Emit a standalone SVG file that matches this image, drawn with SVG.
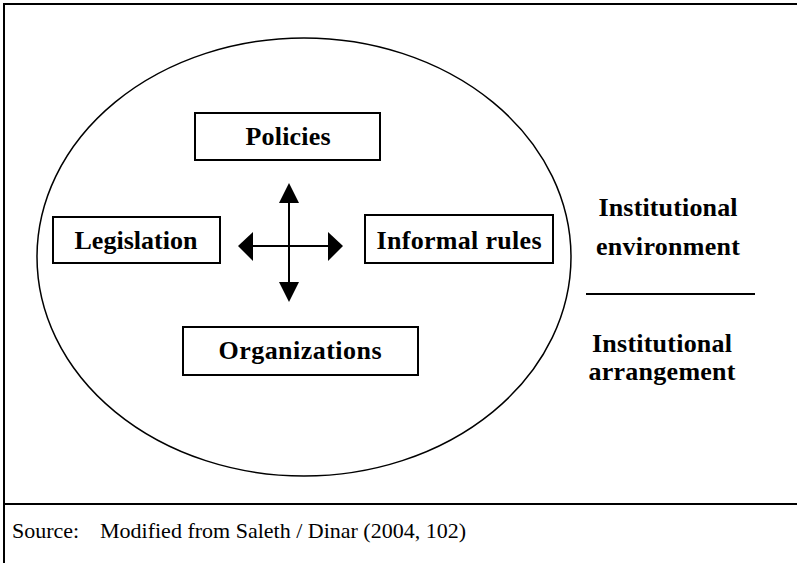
<svg xmlns="http://www.w3.org/2000/svg" width="797" height="563" viewBox="0 0 797 563">
<style>
.frame{stroke:#000;stroke-width:2;fill:none}
.box{fill:#fff;stroke:#000;stroke-width:2}
.lbl{font-family:"Liberation Serif";font-weight:700;font-size:26px;fill:#000;text-anchor:middle}
.src{font-family:"Liberation Serif","Times New Roman",serif;font-size:22px;fill:#000}
.arr{fill:#000}
</style>
<rect width="797" height="563" fill="#fff"/>
<g id="frame">
<line class="frame" x1="4" y1="4" x2="797" y2="4"/>
<line class="frame" x1="4" y1="3" x2="4" y2="563"/>
<line class="frame" x1="4" y1="504" x2="797" y2="504"/>
</g>
<g id="environment">
<ellipse cx="304" cy="257" rx="267" ry="219" fill="none" stroke="#000" stroke-width="1.5"/>
</g>
<g id="policies">
<rect class="box" x="195" y="113" width="185" height="47"/>
<text class="lbl" x="288" y="145" textLength="85" lengthAdjust="spacing">Policies</text>
</g>
<g id="legislation">
<rect class="box" x="53" y="217" width="167" height="46"/>
<text class="lbl" x="136" y="249" textLength="123" lengthAdjust="spacing">Legislation</text>
</g>
<g id="informal-rules">
<rect class="box" x="365" y="215" width="188" height="48"/>
<text class="lbl" x="459" y="249" textLength="165" lengthAdjust="spacing">Informal rules</text>
</g>
<g id="organizations">
<rect class="box" x="183" y="327" width="235" height="48"/>
<text class="lbl" x="300" y="359" textLength="163" lengthAdjust="spacing">Organizations</text>
</g>
<g id="connectors">
<line x1="289" y1="200" x2="289" y2="285" stroke="#000" stroke-width="2"/>
<line x1="250" y1="246" x2="331" y2="246" stroke="#000" stroke-width="2"/>
<polygon class="arr" points="289,183 279,203 299,203"/>
<polygon class="arr" points="289,302 279,282 299,282"/>
<polygon class="arr" points="238,246 253,232 253,261"/>
<polygon class="arr" points="343,246 328,232 328,261"/>
</g>
<g id="legend">
<text class="lbl" x="668" y="216" textLength="139" lengthAdjust="spacing">Institutional</text>
<text class="lbl" x="668" y="255" textLength="144" lengthAdjust="spacing">environment</text>
<line x1="586" y1="294" x2="755" y2="294" stroke="#000" stroke-width="2"/>
<text class="lbl" x="662" y="352" textLength="140" lengthAdjust="spacing">Institutional</text>
<text class="lbl" x="662" y="380" textLength="147" lengthAdjust="spacing">arrangement</text>
</g>
<g id="source">
<text class="src" x="12" y="538">Source:</text>
<text class="src" x="100" y="538">Modified from Saleth / Dinar (2004, 102)</text>
</g>
</svg>
